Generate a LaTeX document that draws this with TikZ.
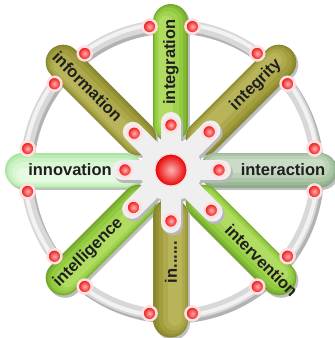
\documentclass[tikz,border=0pt]{standalone}
\usepackage{fontspec}
\setmainfont{Liberation Sans}
\usetikzlibrary{calc}
\definecolor{limeL}{HTML}{B0DC62}
\definecolor{limeM}{HTML}{92CA40}
\definecolor{limeD}{HTML}{74A82C}
\definecolor{oliveL}{HTML}{B8B45A}
\definecolor{oliveM}{HTML}{A29E3E}
\definecolor{oliveD}{HTML}{88862E}
\definecolor{paleL}{HTML}{E6FAE2}
\definecolor{paleM}{HTML}{CAF2C2}
\definecolor{paleD}{HTML}{ACE2A4}
\definecolor{ggL}{HTML}{CADCC5}
\definecolor{ggM}{HTML}{AAC6A6}
\definecolor{ggD}{HTML}{8CAC8A}
\definecolor{ringc}{HTML}{D8D8D8}
\definecolor{hubc}{HTML}{EFEFEF}
\begin{document}
\begin{tikzpicture}[x=1pt,y=1pt,
  lbl/.style={font=\bfseries\fontsize{16.5}{16.5}\selectfont, text=black!88, inner sep=0pt},
  dot/.style={circle, inner sep=0pt, minimum size=14pt, shading=radial,
              inner color=red!30!white, outer color=red!92!black,
              draw=white!88!red, line width=2.5pt},
  bigball/.style={circle, inner sep=0pt, minimum size=32pt, shading=radial,
              inner color=red!30!white, outer color=red!90!black,
              draw=white!85!red, line width=1.2pt},
]
\useasboundingbox (-171,-168) rectangle (164,170);
\fill[white] (-171,-168) rectangle (164,170);

% ring
\draw[black!30, line width=12pt] (2,-2.5) circle (145);
\draw[ringc, line width=11pt] (0,0) circle (145);
\draw[white!95!black, line width=4pt] (0,0) circle (146.5);

% pills: angle / outer end of axis / colour family
\foreach \a/\re/\c in {90/148.5/lime, 135/152.5/olive, 45/152.5/olive, 180/148.5/pale,
                       0/148.5/gg, 225/152.5/lime, 270/150/olive, 315/152.5/lime}{
  \draw[black!25, line width=35pt, line cap=round] ($(\a:45.5)+(2,-2.5)$) -- ($(\a:\re)+(2,-2.5)$);
  \draw[\c D, line width=35pt, line cap=round] (\a:45.5) -- (\a:\re);
  \draw[\c D!50!\c M, line width=32pt, line cap=round] ($(\a:45.5)+(\a+90:0.8)$) -- ($(\a:\re)+(\a+90:0.8)$);
  \draw[\c M, line width=28pt, line cap=round] ($(\a:45.5)+(\a+90:1.6)$) -- ($(\a:\re)+(\a+90:1.6)$);
  \draw[\c M!50!\c L, line width=22pt, line cap=round] ($(\a:46)+(\a+90:3)$) -- ($(\a:\re-0.5)+(\a+90:3)$);
  \draw[\c L, line width=14pt, line cap=round] ($(\a:47)+(\a+90:4.5)$) -- ($(\a:\re-1)+(\a+90:4.5)$);
}

% hub
\begin{scope}[shift={(2,-2.5)}]
  \fill[black!28] (0,0) circle (31);
  \foreach \a/\r in {0/50,45/56,90/48,135/54,180/49,225/55,270/53,315/59}
    \draw[black!28, line width=20pt, line cap=round] (0,0) -- (\a:\r);
\end{scope}
\fill[hubc] (0,0) circle (31);
\foreach \a/\r in {0/50,45/56,90/48,135/54,180/49,225/55,270/53,315/59}
  \draw[hubc, line width=20pt, line cap=round] (0,0) -- (\a:\r);

% labels
\node[lbl, rotate=90]  (t90)  at (90:108)  {integration};
\node[lbl, rotate=-45] (t135) at (135:118) {information};
\node[lbl, rotate=45]  (t45)  at (45:120)  {integrity};
\node[lbl]             (t180) at (180:101) {innovation};
\node[lbl]             (t0)   at (0:112)   {interaction};
\node[lbl, rotate=45]  (t225) at (225:117) {intelligence};
\node[lbl, rotate=90]  (t270) at (270:92)  {in......};
\node[lbl, rotate=-45] (t315) at (315:128) {intervention};

% inner dots
\foreach \a/\r in {0/48,45/54,90/45,135/52,180/46,225/53,270/51,315/57}
  \node[dot] (in\a) at (\a:\r) {};
% ring dots
\foreach \a in {0,45,...,315}{
  \node[dot] (ra\a) at (\a+8.5:145) {};
  \node[dot] (rb\a) at (\a-8.5:145) {};
}
% centre
\node[bigball] (hub) at (0,0) {};
\end{tikzpicture}
\end{document}
